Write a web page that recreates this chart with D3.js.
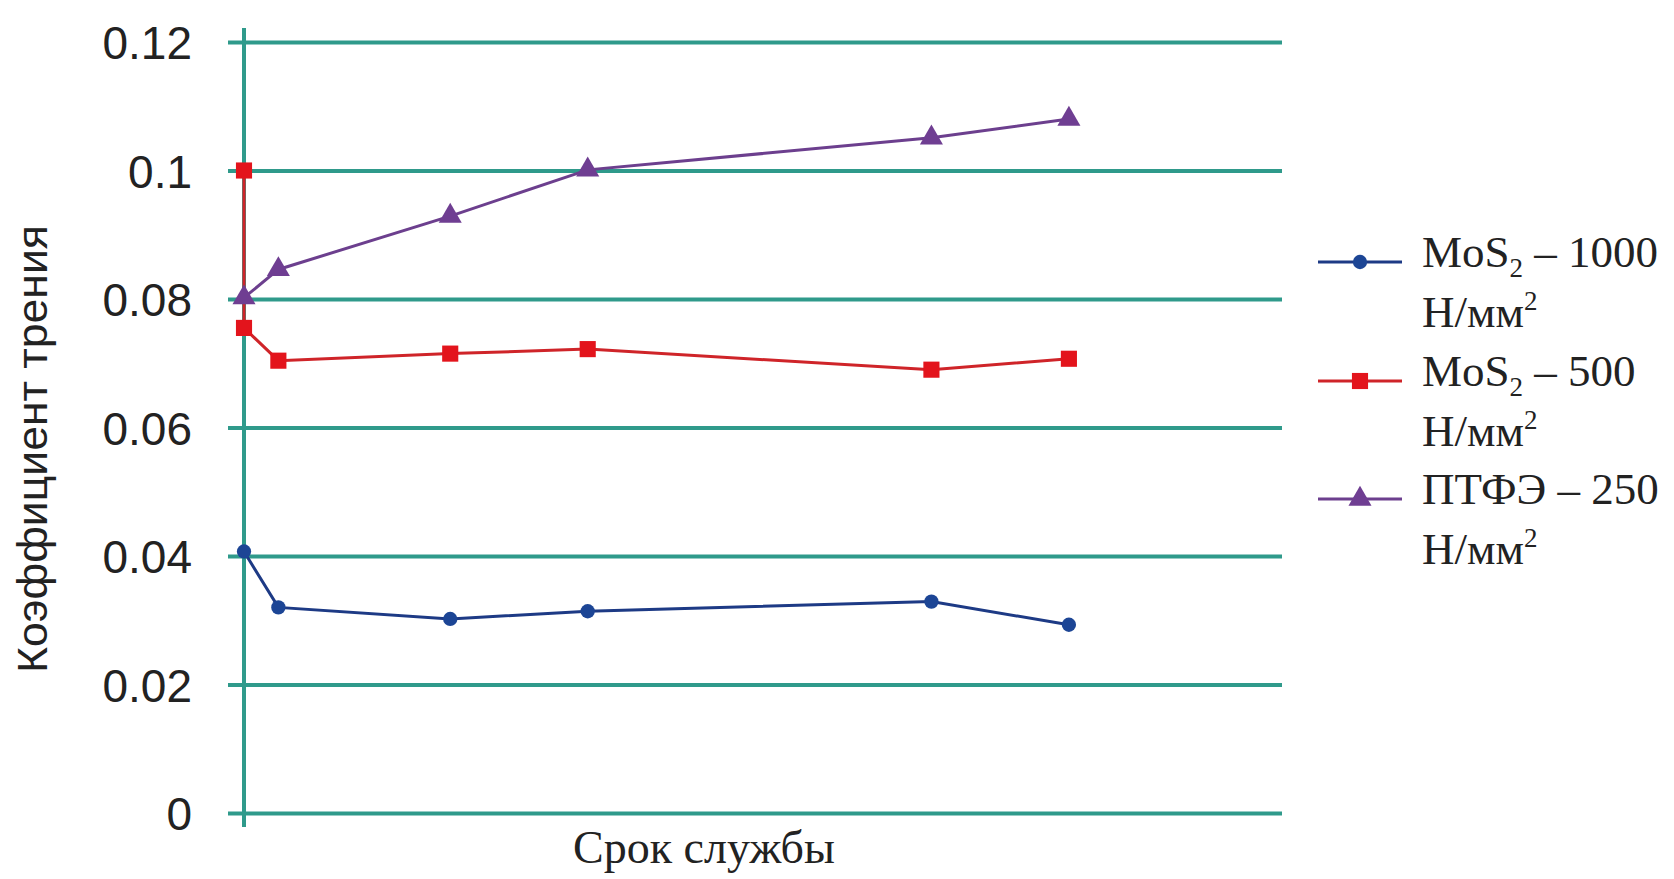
<!DOCTYPE html>
<html>
<head>
<meta charset="utf-8">
<script src="https://cdn.jsdelivr.net/npm/d3@7"></script>
<style>
  body { margin: 0; background: #fff; }
  svg { display: block; }
</style>
</head>
<body>
<svg id="chart" width="1674" height="879"></svg>
<script>
// data
var xTime = [0, 0.25, 1.5, 2.5, 5, 6];
var mos1000 = [0.0407, 0.0320, 0.0302, 0.0314, 0.0329, 0.0293];
// red series starts with two points at x=0
var xTimeRed = [0, 0, 0.25, 1.5, 2.5, 5, 6];
var mos500 = [0.1000, 0.0755, 0.0704, 0.0715, 0.0722, 0.0690, 0.0707];
var ptfe250 = [0.0802, 0.0846, 0.0929, 0.1001, 0.1051, 0.1080];
var yTicks = [0, 0.02, 0.04, 0.06, 0.08, 0.1, 0.12];
var yTickLabels = ["0", "0.02", "0.04", "0.06", "0.08", "0.1", "0.12"];
var legendNames = ["MoS", "MoS", "ПТФЭ – 250"];

var teal = "#2f9a8b";
var svg = d3.select("#chart");

var x = d3.scaleLinear().domain([0, 7.55]).range([244, 1282]);
var y = d3.scaleLinear().domain([0, 0.12]).range([813, 42]);

// grid + tick labels
var yAxis = d3.axisLeft(y)
  .tickValues(yTicks)
  .tickFormat(function(d, i) { return yTickLabels[i]; })
  .tickSize(-(1282 - 228))
  .tickPadding(36);

var ga = svg.append("g")
  .attr("transform", "translate(228,0)")
  .call(yAxis);
ga.select(".domain").remove();
ga.selectAll(".tick line")
  .attr("stroke", teal)
  .attr("stroke-width", 4);
ga.selectAll(".tick text")
  .attr("fill", "#222")
  .attr("font-family", "'Liberation Sans', Arial, sans-serif")
  .attr("font-size", 46)
  .attr("dy", "0.36em");

// vertical axis line
svg.append("line")
  .attr("x1", x(0)).attr("x2", x(0))
  .attr("y1", 28).attr("y2", 827)
  .attr("stroke", teal)
  .attr("stroke-width", 4);

var line = d3.line()
  .x(function(d) { return x(d[0]); })
  .y(function(d) { return y(d[1]); });

var series = [
  {name: "mos1000", xs: xTime, ys: mos1000, line: "#1d3a85", fill: "#1c4595", shape: "circle"},
  {name: "mos500", xs: xTimeRed, ys: mos500, line: "#cf2429", fill: "#e3141c", shape: "square"},
  {name: "ptfe250", xs: xTime, ys: ptfe250, line: "#6c3f8e", fill: "#6f3e92", shape: "triangle"}
];

function symbolFor(shape) {
  if (shape == "circle") return d3.symbol().type(d3.symbolCircle).size(160);
  if (shape == "square") return d3.symbol().type(d3.symbolSquare).size(260);
  return d3.symbol().type(d3.symbolTriangle).size(230);
}

series.forEach(function(s) {
  var pts = s.xs.map(function(v, i) { return [v, s.ys[i]]; });
  svg.append("path")
    .datum(pts)
    .attr("fill", "none")
    .attr("stroke", s.line)
    .attr("stroke-width", 3)
    .attr("d", line);
  svg.selectAll(".pt-" + s.name)
    .data(pts)
    .enter().append("path")
    .attr("class", "pt-" + s.name)
    .attr("transform", function(d) { return "translate(" + x(d[0]) + "," + y(d[1]) + ")"; })
    .attr("fill", s.fill)
    .attr("d", symbolFor(s.shape)());
});

// axis titles
svg.append("text")
  .attr("x", 704).attr("y", 863)
  .attr("text-anchor", "middle")
  .attr("font-family", "'Liberation Serif', 'Times New Roman', serif")
  .attr("font-size", 46)
  .attr("fill", "#222")
  .text("Срок службы");

svg.append("text")
  .attr("transform", "translate(47,449) rotate(-90)")
  .attr("text-anchor", "middle")
  .attr("font-family", "'Liberation Sans Narrow', 'Liberation Sans', Arial, sans-serif")
  .attr("font-size", 42)
  .attr("fill", "#222")
  .attr("textLength", 448)
  .attr("lengthAdjust", "spacingAndGlyphs")
  .text("Коэффициент трения");

// legend
var legY = [262, 381, 499];
var legFont = "'Liberation Serif', 'Times New Roman', serif";
var leg = svg.selectAll(".leg")
  .data(series)
  .enter().append("g")
  .attr("class", "leg")
  .attr("transform", function(d, i) { return "translate(0," + legY[i] + ")"; });

leg.append("line")
  .attr("x1", 1318).attr("x2", 1402)
  .attr("stroke", function(d) { return d.line; })
  .attr("stroke-width", 3);
leg.append("path")
  .attr("transform", "translate(1360,0)")
  .attr("fill", function(d) { return d.fill; })
  .attr("d", function(d) { return symbolFor(d.shape)(); });

leg.each(function(d, i) {
  var g = d3.select(this);
  var t1 = g.append("text")
    .attr("x", 1422).attr("y", 5)
    .attr("font-family", legFont)
    .attr("font-size", 45)
    .attr("fill", "#222");
  if (i < 2) {
    t1.append("tspan").text(legendNames[i]);
    t1.append("tspan").attr("font-size", 27).attr("dy", 10).text("2");
    t1.append("tspan").attr("dy", -10).text(i == 0 ? " – 1000" : " – 500");
  } else {
    t1.text(legendNames[i]);
  }
  var t2 = g.append("text")
    .attr("x", 1422).attr("y", 65)
    .attr("font-family", legFont)
    .attr("font-size", 45)
    .attr("fill", "#222");
  t2.append("tspan").text("Н/мм");
  t2.append("tspan").attr("font-size", 27).attr("dy", -17).text("2");
});
</script>
</body>
</html>
